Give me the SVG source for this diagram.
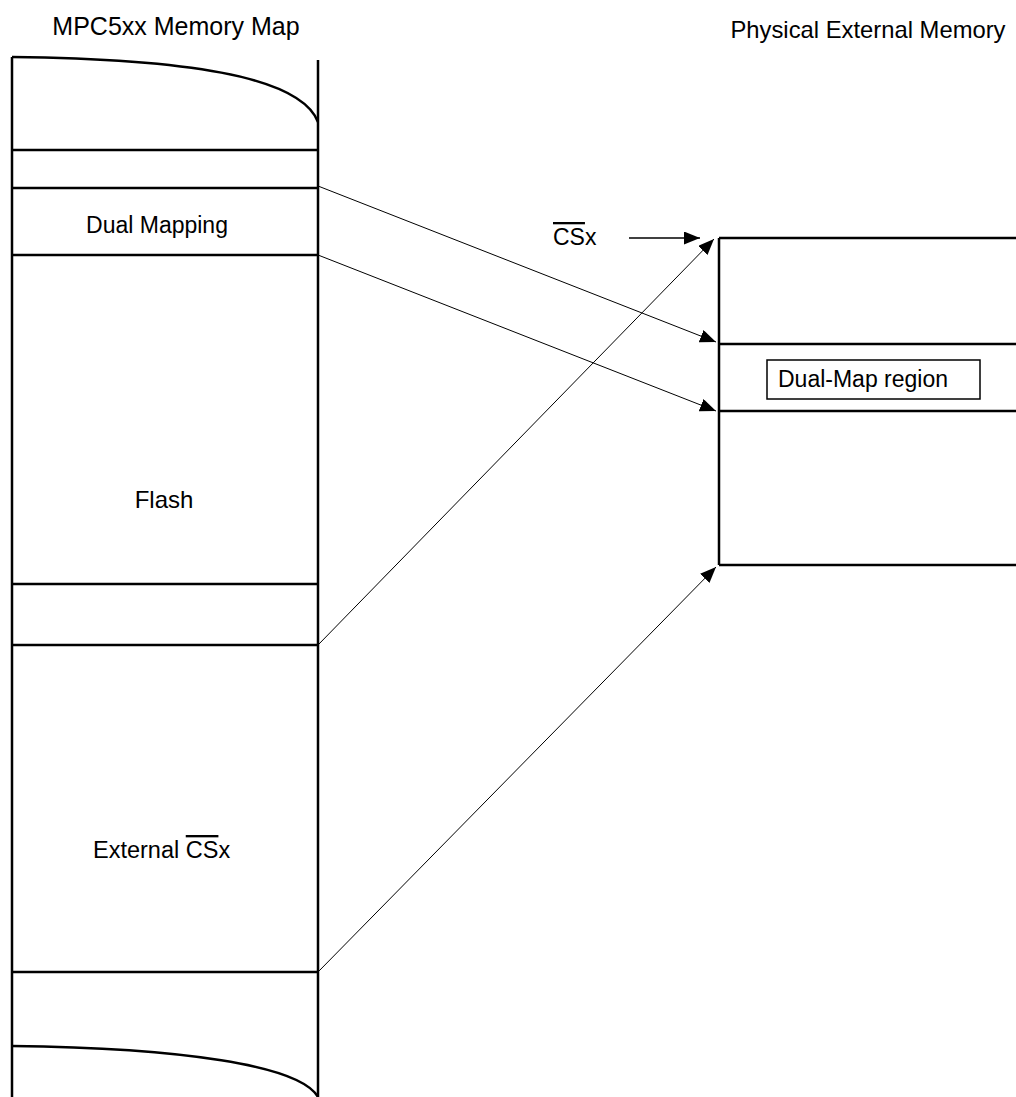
<svg xmlns="http://www.w3.org/2000/svg" width="1016" height="1097" viewBox="0 0 1016 1097">
<style>
.t{font-family:"Liberation Sans",Arial,sans-serif;fill:#000}
.b{font-size:23px}
.thick{stroke:#000;stroke-width:2.5;fill:none}
.thin{stroke:#000;stroke-width:1;fill:none}
</style>
<defs>
<marker id="ah" viewBox="0 0 16 13" refX="16" refY="6.5" markerWidth="16" markerHeight="13" markerUnits="userSpaceOnUse" orient="auto">
<path d="M0,0 L16,6.5 L0,13 Z" fill="#000"/>
</marker>
</defs>
<rect width="1016" height="1097" fill="#fff"/>
<text class="t" x="176" y="35" font-size="25" text-anchor="middle">MPC5xx Memory Map</text>
<text class="t" x="868" y="38" font-size="23.8" text-anchor="middle">Physical External Memory</text>
<g id="memory-map">
<path class="thick" d="M12,57 L12,1097"/>
<path class="thick" d="M318,60 L318,1097"/>
<path class="thick" d="M12,57 C180,59 300,75 318,122"/>
<path class="thick" d="M12,1046 C180,1048 300,1065 318,1097"/>
<path class="thick" d="M12,150 H318 M12,188 H318 M12,255 H318 M12,584 H318 M12,645 H318 M12,972 H318"/>
</g>
<g id="dual-mapping"><text class="t b" x="157" y="233" text-anchor="middle">Dual Mapping</text></g>
<g id="flash"><text class="t" x="164" y="508" font-size="24" text-anchor="middle">Flash</text></g>
<g id="external-csx"><text class="t" x="93" y="858" font-size="23.5">External <tspan text-decoration="overline">CS</tspan>x</text></g>
<g id="physical-memory">
<path class="thick" d="M719,238 V565"/>
<path class="thick" d="M719,238 H1016 M719,344 H1016 M719,411 H1016 M719,565 H1016"/>
</g>
<g id="dual-map-region">
<rect x="767" y="360" width="213" height="39" fill="none" stroke="#000" stroke-width="1.5"/>
<text class="t b" x="778" y="387">Dual-Map region</text>
</g>
<g id="csx-label"><text class="t b" x="553" y="245"><tspan text-decoration="overline">CS</tspan>x</text></g>
<g id="connectors">
<line class="thin" x1="318" y1="186" x2="716" y2="342" marker-end="url(#ah)"/>
<line class="thin" x1="318" y1="255" x2="716" y2="411" marker-end="url(#ah)"/>
<line class="thin" x1="318" y1="645" x2="714" y2="239" marker-end="url(#ah)"/>
<line class="thin" x1="318" y1="972" x2="716" y2="567" marker-end="url(#ah)"/>
<line stroke="#000" stroke-width="1.5" x1="629" y1="238" x2="700" y2="238" marker-end="url(#ah)"/>
</g>
</svg>
